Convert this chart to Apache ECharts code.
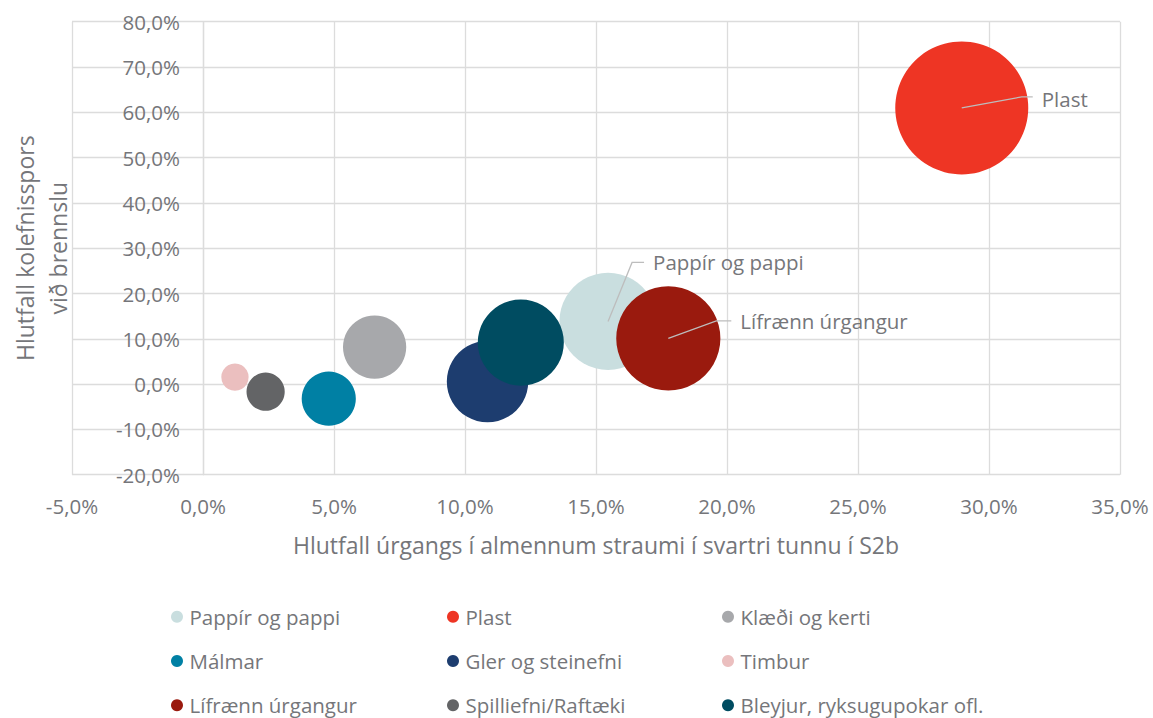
<!DOCTYPE html>
<html>
<head>
<meta charset="utf-8">
<script src="https://cdn.jsdelivr.net/npm/echarts@6/dist/echarts.min.js"></script>
<style>
  html, body { margin: 0; padding: 0; background: #ffffff; }
  #chart { width: 1153px; height: 718px; }
</style>
</head>
<body>
<div id="chart"></div>
<script>
// Waste categories in the S2b black bin
const categories = [
  'Pappír og pappi', 'Plast', 'Klæði og kerti',
  'Málmar', 'Gler og steinefni', 'Timbur',
  'Lífrænn úrgangur', 'Spilliefni/Raftæki', 'Bleyjur, ryksugupokar ofl.'
];
// Share of the waste stream (%), x
const wasteShare = [15.46, 28.96, 6.55, 4.80, 10.86, 1.22, 17.76, 2.39, 12.13];
// Share of the incineration carbon footprint (%), y
const footprintShare = [13.84, 60.97, 8.17, -3.22, 0.55, 1.55, 10.09, -1.68, 9.16];
// Bubble size follows the waste share
const bubbleSize = [15.46, 28.96, 6.55, 4.80, 10.86, 1.22, 17.76, 2.39, 12.13];
// Axis ticks (%)
const xTicks = [-5, 0, 5, 10, 15, 20, 25, 30, 35];
const yTicks = [-20, -10, 0, 10, 20, 30, 40, 50, 60, 70, 80];

const colors = ['#C9DEDF', '#EE3524', '#A7A8AB', '#0080A4', '#1D3D6F', '#EBBFBF', '#9A1A0E', '#636466', '#004C61'];

const FONT = 'Open Sans';
const TEXT = '#75767A';
const GRID = '#DCDCDC';
const LEADER = '#BDBDBD';
const MAX_DIAMETER = 133;
const maxSize = Math.max(...bubbleSize);

// Plot area
const GRID_LEFT = 72, GRID_RIGHT = 33, GRID_TOP = 21.7, GRID_BOTTOM = 243.3;
const plotWidth = 1153 - GRID_LEFT - GRID_RIGHT;
const xMin = xTicks[0], xMax = xTicks[xTicks.length - 1];
// The vertical axis crosses at x = 0, so shift it right from the plot's left edge
const yAxisShift = plotWidth * (0 - xMin) / (xMax - xMin);

// Leader-line callouts: offsets in px from the bubble centre
const callouts = {
  'Plast':            { elbow: [60, -11], end: [71, -11], text: [80, -9] },
  'Pappír og pappi':  { elbow: [24, -59], end: [36, -59], text: [45, -59] },
  'Lífrænn úrgangur': { elbow: [48, -17.5], end: [63, -17.5], text: [72, -17] }
};

const fmtPct = v => v.toFixed(1).replace('.', ',') + '%';

const series = categories.map((name, i) => {
  const c = callouts[name];
  const s = {
    name: name,
    type: 'scatter',
    data: [[wasteShare[i], footprintShare[i], bubbleSize[i]]],
    symbol: 'circle',
    symbolSize: v => MAX_DIAMETER * Math.sqrt(v[2] / maxSize),
    itemStyle: { color: colors[i], opacity: 1 },
    emphasis: { disabled: true },
    label: { show: false }
  };
  if (c) {
    s.label = {
      show: true,
      formatter: '{a}',
      fontFamily: FONT,
      fontSize: 20.5,
      color: TEXT
    };
    s.labelLayout = function (p) {
      const cx = p.rect.x + p.rect.width / 2;
      const cy = p.rect.y + p.rect.height / 2;
      return { x: cx + c.text[0], y: cy + c.text[1], align: 'left', verticalAlign: 'middle' };
    };
  }
  return s;
});

const legendBase = {
  orient: 'vertical',
  top: 604.7,
  padding: 0,
  itemGap: 20.3,
  icon: 'circle',
  itemWidth: 13,
  itemHeight: 12,
  selectedMode: false,
  textStyle: { fontFamily: FONT, fontSize: 20.5, color: TEXT, lineHeight: 24, padding: [0, 0, 0, 1] }
};

const chart = echarts.init(document.getElementById('chart'), null, { renderer: 'svg' });
chart.setOption({
  animation: false,
  backgroundColor: '#ffffff',
  color: colors,
  textStyle: { fontFamily: FONT },
  grid: {
    left: GRID_LEFT, right: GRID_RIGHT, top: GRID_TOP, bottom: GRID_BOTTOM,
    containLabel: false, outerBoundsMode: 'none'
  },
  legend: [
    Object.assign({}, legendBase, { left: 171, data: [categories[0], categories[3], categories[6]] }),
    Object.assign({}, legendBase, { left: 447, data: [categories[1], categories[4], categories[7]] }),
    Object.assign({}, legendBase, { left: 722, data: [categories[2], categories[5], categories[8]] })
  ],
  xAxis: {
    type: 'value',
    min: xMin,
    max: xMax,
    interval: xTicks[1] - xTicks[0],
    name: 'Hlutfall úrgangs í almennum straumi í svartri tunnu í S2b',
    nameLocation: 'middle',
    nameGap: 56,
    nameTextStyle: { fontFamily: FONT, fontSize: 23, color: TEXT, lineHeight: 28 },
    axisLine: { onZero: false, show: false },
    axisTick: { show: false },
    axisLabel: { formatter: fmtPct, fontFamily: FONT, fontSize: 20.5, color: TEXT, margin: 19, lineHeight: 24 },
    splitLine: { show: true, lineStyle: { color: GRID, width: 1.3 } }
  },
  yAxis: {
    type: 'value',
    min: yTicks[0],
    max: yTicks[yTicks.length - 1],
    interval: yTicks[1] - yTicks[0],
    offset: -yAxisShift,
    name: 'Hlutfall kolefnisspors\nvið brennslu',
    nameLocation: 'middle',
    nameRotate: 90,
    nameGap: 129,
    nameTextStyle: { fontFamily: FONT, fontSize: 23, color: TEXT, lineHeight: 33, align: 'center' },
    axisLine: { onZero: false, show: true, lineStyle: { color: GRID, width: 1.3 } },
    axisTick: { show: false },
    axisLabel: { formatter: fmtPct, fontFamily: FONT, fontSize: 20.5, color: TEXT, margin: 23 },
    splitLine: { show: true, lineStyle: { color: GRID, width: 1.3 } }
  },
  series: series
});

// Leader lines from each labelled bubble's centre, drawn above the bubbles
const leaders = [];
categories.forEach((name, i) => {
  const c = callouts[name];
  if (!c) return;
  const [cx, cy] = chart.convertToPixel({ seriesIndex: i }, [wasteShare[i], footprintShare[i]]);
  leaders.push({
    type: 'polyline',
    z: 100,
    silent: true,
    shape: { points: [[cx, cy], [cx + c.elbow[0], cy + c.elbow[1]], [cx + c.end[0], cy + c.end[1]]] },
    style: { stroke: LEADER, lineWidth: 1.3, fill: null }
  });
});
chart.setOption({ graphic: leaders });
</script>
</body>
</html>
